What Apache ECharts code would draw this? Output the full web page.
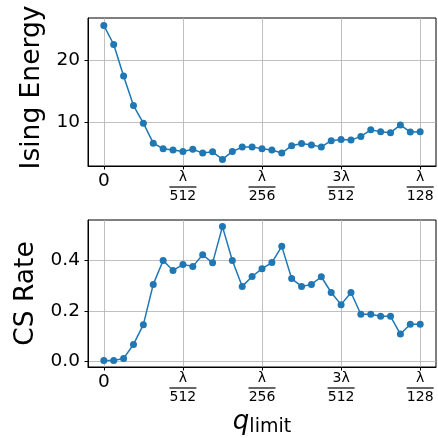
<!DOCTYPE html>
<html>
<head>
<meta charset="utf-8">
<script src="https://cdn.jsdelivr.net/npm/echarts@6/dist/echarts.min.js"></script>
<style>
  html, body { margin: 0; padding: 0; background: #fff; }
  #main { width: 438px; height: 438px; }
</style>
</head>
<body>
<div id="main"></div>
<script>
// q_limit steps (index), tick positions and their labels
var steps = [0, 1, 2, 3, 4, 5, 6, 7, 8, 9, 10, 11, 12, 13, 14, 15, 16,
  17, 18, 19, 20, 21, 22, 23, 24, 25, 26, 27, 28, 29, 30, 31, 32]
var tickSteps = [0, 8, 16, 24, 32]
var tickNum = ['0', 'λ', 'λ', '3λ', 'λ']
var tickDen = ['', '512', '256', '512', '128']

var isingEnergy = [25.7, 22.6, 17.5, 12.7, 9.84, 6.6, 5.7, 5.5, 5.26, 5.6, 5.0,
  5.2, 3.97, 5.26, 5.97, 6.0, 5.7, 5.5, 5.0, 6.2, 6.55, 6.3, 6.0, 7.0, 7.2,
  7.1, 7.7, 8.76, 8.44, 8.3, 9.56, 8.4, 8.44]
var csRate = [0.005, 0.005, 0.013, 0.068, 0.146, 0.305, 0.399, 0.36, 0.383,
  0.376, 0.422, 0.39, 0.533, 0.399, 0.297, 0.336, 0.367, 0.391, 0.455, 0.328,
  0.297, 0.305, 0.335, 0.273, 0.225, 0.273, 0.187, 0.187, 0.179, 0.179, 0.109,
  0.148, 0.148]

var energyTicks = [10, 20]
var csTicks = [0, 0.2, 0.4]

var FONT = 'DejaVu Sans'
var BLUE = '#1f77b4'

function pairs(vals) {
  return steps.map(function(s, i) { return [s, vals[i]] })
}

function xLabel(v) {
  var i = tickSteps.indexOf(v)
  if (i < 0) return ''
  if (!tickDen[i]) return '{z|' + tickNum[i] + '}'
  return '{n|' + tickNum[i] + '}\n{bar| }\n{d|' + tickDen[i] + '}'
}

var xRich = {
  z: { fontSize: 18.5, fontFamily: FONT, color: '#000', lineHeight: 20, align: 'center', padding: [3, 0, 0, 0] },
  n: { fontSize: 14, fontFamily: FONT, color: '#000', lineHeight: 15, align: 'center' },
  bar: { fontSize: 1, lineHeight: 5, height: 1.2, width: 27, backgroundColor: '#000', align: 'center' },
  d: { fontSize: 14, fontFamily: FONT, color: '#000', lineHeight: 14, align: 'center' }
}

function xAxisOpt(idx, withName) {
  var o = {
    type: 'value',
    gridIndex: idx,
    min: -1.6,
    max: 33.6,
    axisLine: { show: true, onZero: false, lineStyle: { color: '#000', width: 1 } },
    axisTick: { show: true, length: 3.5, customValues: tickSteps, lineStyle: { color: '#000' } },
    axisLabel: { customValues: tickSteps, formatter: xLabel, rich: xRich, margin: 3.5 },
    splitLine: { show: true, lineStyle: { color: '#b0b0b0', width: 0.8 } }
  }
  if (withName) {
    o.name = '{q|q}{s|limit}'
    o.nameLocation = 'middle'
    o.nameGap = 42
    o.nameTextStyle = {
      rich: {
        q: { fontSize: 26, fontStyle: 'italic', fontFamily: FONT, color: '#000', lineHeight: 26, verticalAlign: 'top' },
        s: { fontSize: 19, fontFamily: FONT, color: '#000', lineHeight: 19, padding: [9, 0, 0, 0], verticalAlign: 'top' }
      }
    }
  }
  return o
}

function yAxisOpt(idx, min, max, ticks, name, gap, namePad, fmt) {
  return {
    type: 'value',
    gridIndex: idx,
    min: min,
    max: max,
    name: name,
    nameLocation: 'middle',
    nameGap: gap,
    nameTextStyle: { fontSize: 26.5, fontFamily: FONT, color: '#000', padding: namePad },
    axisLine: { show: true, onZero: false, lineStyle: { color: '#000', width: 1 } },
    axisTick: { show: true, length: 3.5, customValues: ticks, lineStyle: { color: '#000' } },
    axisLabel: { customValues: ticks, formatter: fmt, fontSize: 18.5, fontFamily: FONT, color: '#000', margin: 8 },
    splitLine: { show: true, lineStyle: { color: '#b0b0b0', width: 0.8 } }
  }
}

function lineSeries(idx, vals) {
  return {
    type: 'line',
    xAxisIndex: idx,
    yAxisIndex: idx,
    data: pairs(vals),
    symbol: 'circle',
    symbolSize: 7,
    showSymbol: true,
    clip: false,
    itemStyle: { color: BLUE },
    lineStyle: { color: BLUE, width: 1.5 },
    animation: false
  }
}

var myChart = echarts.init(document.getElementById('main'))
myChart.setOption({
  backgroundColor: '#fff',
  animation: false,
  grid: [
    { left: 88, right: 2, top: 18, height: 148, show: true, borderColor: '#000', borderWidth: 1 },
    { left: 88, right: 2, top: 220, height: 147, show: true, borderColor: '#000', borderWidth: 1 }
  ],
  xAxis: [xAxisOpt(0, false), xAxisOpt(1, true)],
  yAxis: [
    yAxisOpt(0, 2.9, 26.9, energyTicks, 'Ising Energy', 40, [0, 0, 0, 9], function(v) { return String(v) }),
    yAxisOpt(1, -0.021, 0.559, csTicks, 'CS Rate', 48, 0, function(v) { return v.toFixed(1) })
  ],
  series: [lineSeries(0, isingEnergy), lineSeries(1, csRate)]
})
</script>
</body>
</html>
